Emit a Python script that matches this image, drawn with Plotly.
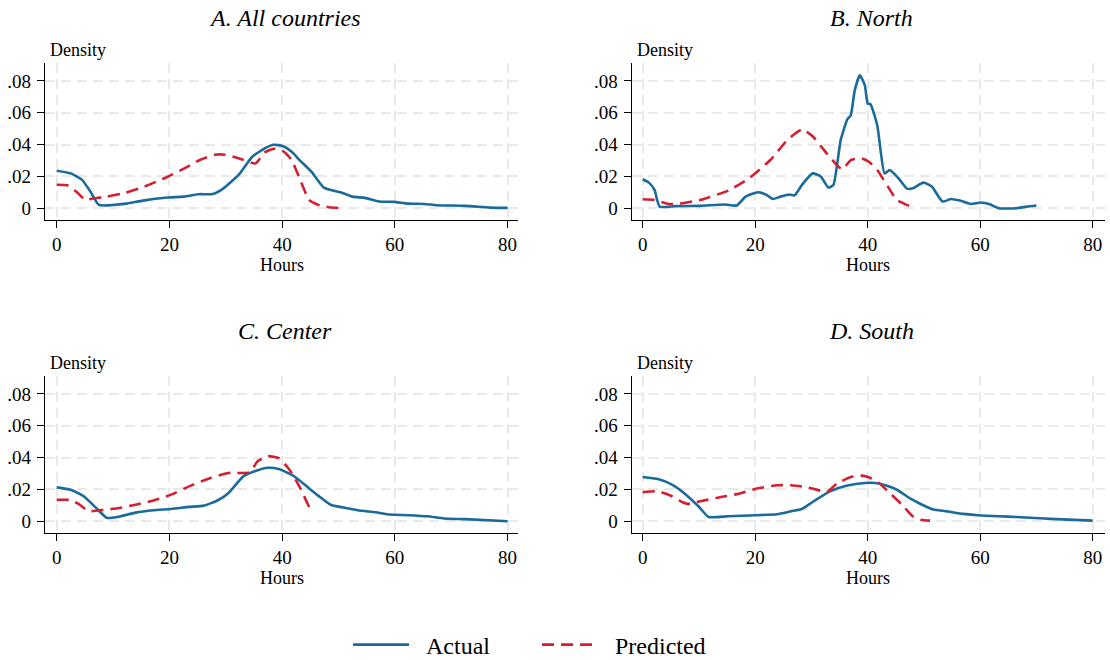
import plotly.graph_objects as go

# ---- Data: kernel density of weekly hours, actual vs predicted ----
a_actual_hours = [0, 2.5, 4.5, 6, 7.5, 12.4, 15.3, 19.7, 22.6, 25.1, 27.7, 29.6, 32.4, 34.7, 36.9,
                  38.5, 40.1, 41.7, 43.2, 45.2, 47.4, 50.6, 52.5, 54.7, 57.2, 59.8, 62.3, 65.2, 67.4,
                  72.5, 76.9, 80]
a_actual_density = [0.0236, 0.0219, 0.0178, 0.0104, 0.0021, 0.0029, 0.0048, 0.0067, 0.0073, 0.0088,
                    0.0090, 0.0125, 0.0215, 0.0324, 0.0376, 0.0399, 0.0391, 0.0355, 0.0299, 0.0230,
                    0.0130, 0.0098, 0.0073, 0.0065, 0.0042, 0.0040, 0.0029, 0.0027, 0.0019, 0.0015,
                    0.0004, 0.0002]
a_pred_hours = [0, 1.9, 3.5, 5.1, 6.4, 8.9, 12.1, 15.3, 19.7, 22.9, 25.4, 28, 29.9, 32.4, 35.3, 36.9,
                38.5, 40.1, 41.7, 43.2, 44.8, 46.4, 48.3, 50.6]
a_pred_density = [0.0148, 0.0144, 0.0104, 0.0052, 0.0061, 0.0073, 0.0096, 0.0132, 0.0198, 0.0255,
                  0.0303, 0.0336, 0.0336, 0.0313, 0.0282, 0.0351, 0.0374, 0.0361, 0.0303, 0.0178,
                  0.0052, 0.0021, 0.0006, 0.0]

b_actual_hours = [0, 1.1, 2.1, 3.0, 5.8, 10.2, 14.6, 16.7, 18.3, 20.5, 22.0, 23.1, 24.5, 26.1, 27.0,
                  28.3, 30.2, 31.7, 33.0, 33.9, 35.2, 36.4, 37.0, 37.7, 38.6, 39.5, 40.0, 40.5, 41.7,
                  43.0, 43.9, 45.5, 47.0, 48.0, 49.9, 51.4, 53.3, 54.8, 56.4, 58.3, 60.1, 61.7, 63.3,
                  66.4, 68.3, 70]
b_actual_density = [0.0182, 0.0161, 0.0115, 0.0010, 0.0013, 0.0015, 0.0023, 0.0017, 0.0073, 0.0100,
                    0.0084, 0.0058, 0.0073, 0.0086, 0.0081, 0.0146, 0.0219, 0.0198, 0.0130, 0.0146,
                    0.0428, 0.0560, 0.0585, 0.0741, 0.0836, 0.0773, 0.0658, 0.0654, 0.0522, 0.0219,
                    0.0240, 0.0188, 0.0123, 0.0125, 0.0161, 0.0136, 0.0042, 0.0058, 0.0048, 0.0027,
                    0.0036, 0.0025, 0.0, 0.0, 0.0010, 0.0017]
b_pred_hours = [0, 2.1, 4.6, 6.4, 10.2, 15.2, 18.9, 22.7, 25.8, 28.3, 30.2, 32.7, 34.5, 35.5, 37.0,
                38.9, 40.2, 41.7, 43.6, 45.2, 47.7]
b_pred_density = [0.0056, 0.0052, 0.0027, 0.0029, 0.0052, 0.0111, 0.0188, 0.0303, 0.0432, 0.0495,
                  0.0453, 0.0345, 0.0272, 0.0244, 0.0303, 0.0313, 0.0292, 0.0240, 0.0136, 0.0052,
                  0.0010]

c_actual_hours = [0, 2.5, 4.8, 7.0, 8.9, 10.8, 14.0, 17.2, 20.3, 23.5, 26.1, 28.6, 30.5, 33.1, 35.0,
                  37.5, 39.4, 42.0, 44.5, 46.4, 48.6, 50.9, 53.4, 56.6, 59.1, 62.3, 65.8, 68.7, 72.5, 80]
c_actual_density = [0.0213, 0.0198, 0.0157, 0.0084, 0.0021, 0.0027, 0.0054, 0.0069, 0.0077, 0.0090,
                    0.0098, 0.0132, 0.0178, 0.0282, 0.0313, 0.0336, 0.0328, 0.0286, 0.0215, 0.0161,
                    0.0104, 0.0086, 0.0069, 0.0056, 0.0042, 0.0038, 0.0031, 0.0017, 0.0013, 0.0]
c_pred_hours = [0, 2.2, 3.8, 5.7, 7.6, 10.8, 14.0, 17.2, 20.3, 23.5, 27.3, 30.5, 34.3, 35.6, 37.5,
                39.4, 41.3, 43.2, 45.0]
c_pred_density = [0.0134, 0.0134, 0.0111, 0.0063, 0.0069, 0.0081, 0.0104, 0.0130, 0.0167, 0.0219,
                  0.0272, 0.0303, 0.0307, 0.0376, 0.0409, 0.0397, 0.0324, 0.0209, 0.0073]

d_actual_hours = [0, 2.7, 5.2, 7.7, 9.9, 11.7, 15.2, 20.2, 23.9, 26.4, 28.3, 30.2, 33.3, 36.4, 39.5,
                  41.4, 43.3, 45.2, 47.7, 49.5, 51.7, 53.9, 57.0, 60.1, 63.3, 66.4, 71.4, 75.8, 80]
d_actual_density = [0.0278, 0.0265, 0.0230, 0.0167, 0.0094, 0.0027, 0.0031, 0.0038, 0.0044, 0.0063,
                    0.0077, 0.0121, 0.0188, 0.0224, 0.0240, 0.0240, 0.0224, 0.0198, 0.0140, 0.0107,
                    0.0073, 0.0063, 0.0046, 0.0036, 0.0031, 0.0027, 0.0017, 0.0010, 0.0004]
d_pred_hours = [0, 2.7, 5.2, 7.1, 8.0, 10.2, 13.9, 17.1, 20.2, 23.9, 26.4, 28.9, 31.4, 32.7, 34.5,
                37.0, 38.9, 40.2, 42.0, 43.9, 46.1, 48.0, 49.5, 51.1]
d_pred_density = [0.0182, 0.0188, 0.0157, 0.0119, 0.0109, 0.0125, 0.0152, 0.0173, 0.0205, 0.0226,
                  0.0226, 0.0215, 0.0194, 0.0182, 0.0236, 0.0278, 0.0287, 0.0276, 0.0240, 0.0178,
                  0.0104, 0.0031, 0.0010, 0.0004]

panel_titles = ["A. All countries", "B. North", "C. Center", "D. South"]
series_names = ["Actual", "Predicted"]
x_ticks = [0, 20, 40, 60, 80]
y_ticks = [0, 0.02, 0.04, 0.06, 0.08]
y_tick_labels = ["0", ".02", ".04", ".06", ".08"]

panels = [
    (a_actual_hours, a_actual_density, a_pred_hours, a_pred_density),
    (b_actual_hours, b_actual_density, b_pred_hours, b_pred_density),
    (c_actual_hours, c_actual_density, c_pred_hours, c_pred_density),
    (d_actual_hours, d_actual_density, d_pred_hours, d_pred_density),
]

# ---- Styling / layout ----
W, H = 1110, 660
FONT = "Liberation Serif, Times New Roman, serif"
BLUE = "#1a6a9a"
RED = "#d31f2f"
GRID = "#e9e9e9"
NBSP = "\u00a0"

# plot-area boxes in pixels: (left, right, top, bottom)
boxes = [
    (45, 518.3, 63, 220),
    (631.7, 1105, 63, 220),
    (45, 518.3, 376, 533),
    (631.7, 1105, 376, 533),
]
x_ranges = [[-2.07, 81.9], [-1.96, 82.2], [-2.07, 81.9], [-1.96, 82.2]]
y_range = [-0.0074, 0.0913]


def px(x):
    return x / W


def py(y):
    return 1 - y / H


# legend entries with a little breathing room around the text
legend_labels = [NBSP * 2 + series_names[0] + NBSP * 7, NBSP * 2 + series_names[1]]

fig = go.Figure()
annotations = []
layout = {}

for i, (box, data) in enumerate(zip(boxes, panels)):
    l, r, t, b = box
    n = "" if i == 0 else str(i + 1)
    xa, ya = "x" + n, "y" + n
    ah, ad, ph, pd_ = data
    fig.add_trace(go.Scatter(
        x=ah, y=ad, mode="lines", name=legend_labels[0], xaxis=xa, yaxis=ya,
        line=dict(color=BLUE, width=2.6, shape="spline", smoothing=0.5),
        showlegend=(i == 0), legendgroup="a"))
    fig.add_trace(go.Scatter(
        x=ph, y=pd_, mode="lines", name=legend_labels[1], xaxis=xa, yaxis=ya,
        line=dict(color=RED, width=2.6, dash="12px,7px", shape="spline", smoothing=0.5),
        showlegend=(i == 0), legendgroup="p"))

    layout["xaxis" + n] = dict(
        domain=[px(l), px(r)], anchor=ya, range=x_ranges[i],
        tickvals=x_ticks, ticktext=[str(v) for v in x_ticks],
        ticks="outside", ticklen=7, tickwidth=1.2, tickcolor="black",
        showline=True, linecolor="black", linewidth=1.3,
        showgrid=True, gridcolor=GRID, gridwidth=1.5, griddash="10px,6px",
        zeroline=False, tickfont=dict(family=FONT, size=19, color="black"),
        fixedrange=True)
    layout["yaxis" + n] = dict(
        domain=[py(b), py(t)], anchor=xa, range=y_range,
        tickvals=y_ticks, ticktext=y_tick_labels,
        ticks="outside", ticklen=7, tickwidth=1.2, tickcolor="black",
        showline=True, linecolor="black", linewidth=1.3,
        showgrid=True, gridcolor=GRID, gridwidth=1.5, griddash="10px,6px",
        zeroline=False, tickfont=dict(family=FONT, size=19, color="black"),
        ticklabelstandoff=2, fixedrange=True)

    cx = (l + r) / 2 + 3
    annotations.append(dict(
        text="<i>%s</i>" % panel_titles[i], x=px(cx), y=py(t - 45),
        xref="paper", yref="paper", xanchor="center", yanchor="middle",
        showarrow=False, font=dict(family=FONT, size=24, color="black")))
    annotations.append(dict(
        text="Density", x=px(l + 3), y=py(t - 13),
        xref="paper", yref="paper", xanchor="left", yanchor="middle",
        showarrow=False, font=dict(family=FONT, size=18, color="black")))
    annotations.append(dict(
        text="Hours", x=px(cx - 3), y=py(b + 45),
        xref="paper", yref="paper", xanchor="center", yanchor="middle",
        showarrow=False, font=dict(family=FONT, size=18, color="black")))

fig.update_layout(
    width=W, height=H,
    margin=dict(l=0, r=0, t=0, b=0, autoexpand=False),
    paper_bgcolor="white", plot_bgcolor="white",
    annotations=annotations,
    showlegend=True,
    legend=dict(
        orientation="h", x=px(529.5), xanchor="center", y=py(645), yanchor="middle",
        font=dict(family=FONT, size=24, color="black"),
        itemwidth=56, tracegroupgap=0, bgcolor="rgba(0,0,0,0)"),
    **layout,
)

fig.write_html("out.html")
